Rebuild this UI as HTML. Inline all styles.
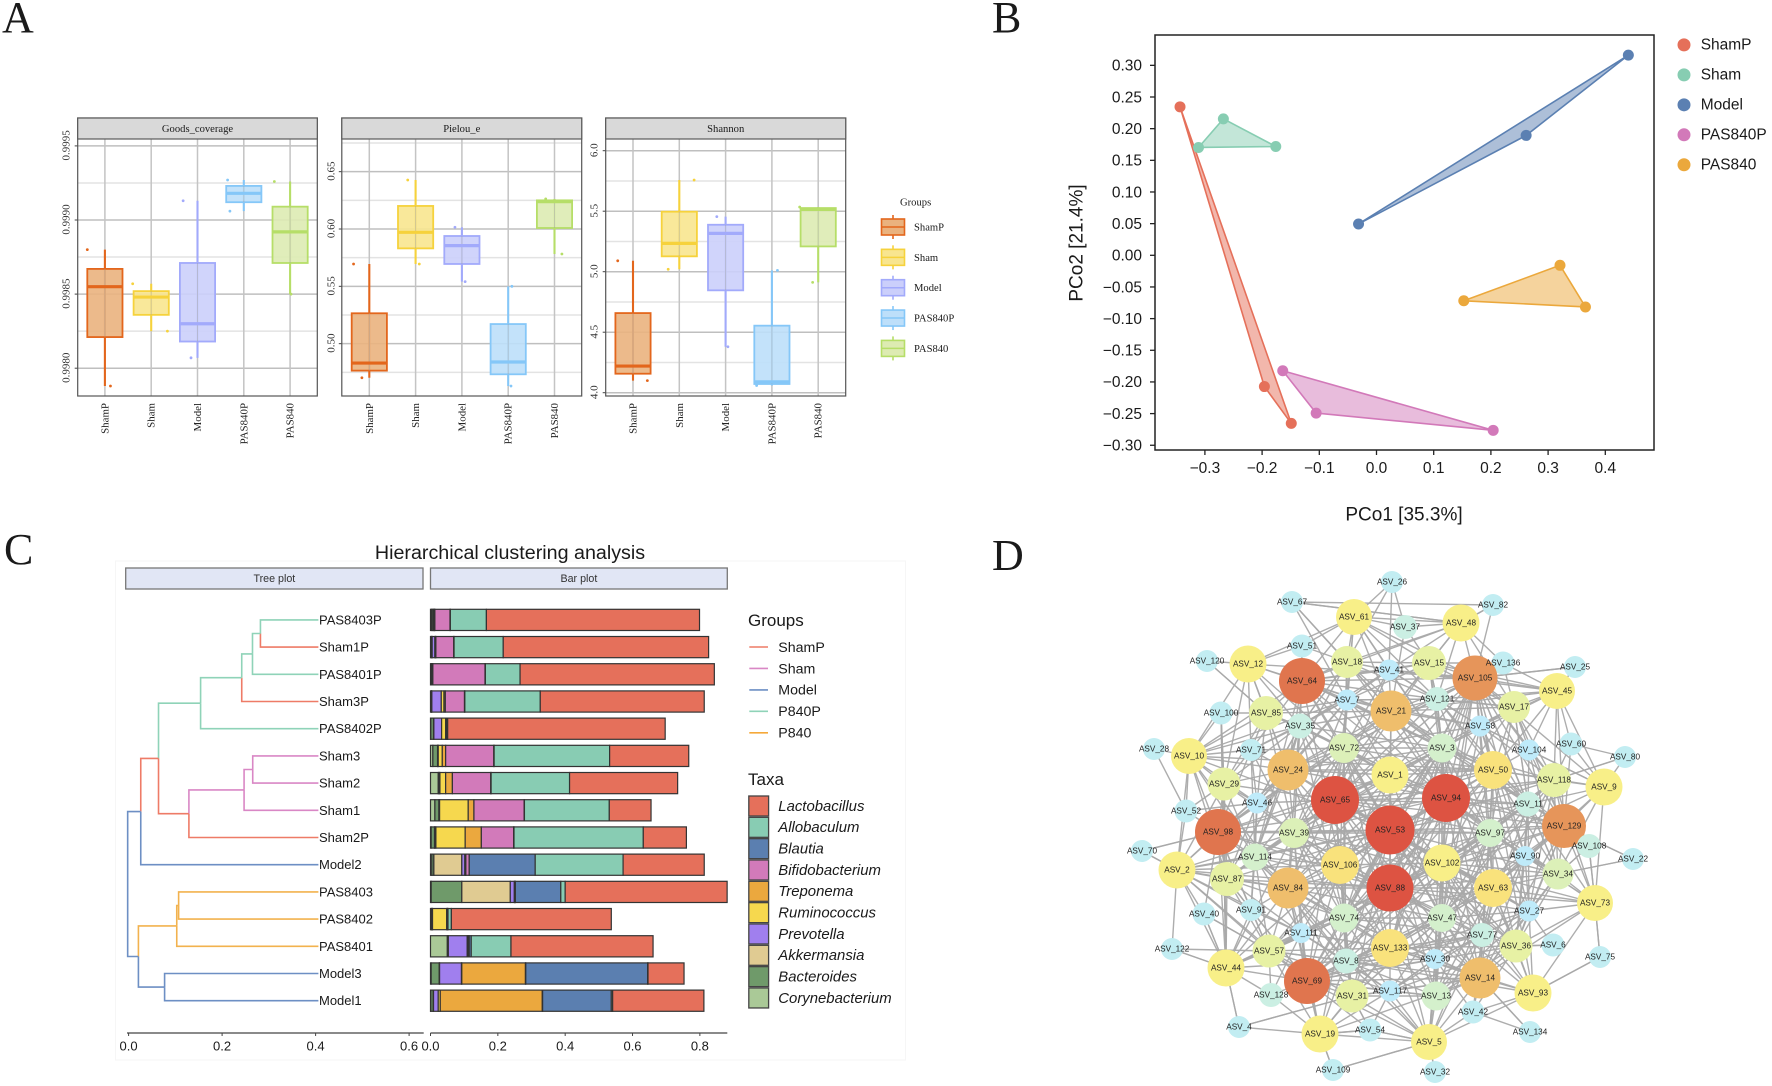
<!DOCTYPE html>
<html lang="en">
<head>
<meta charset="utf-8">
<title>Multi-panel microbiome figure</title>
<style>
html,body{margin:0;padding:0;background:#fff;}
svg{display:block;}
text{font-family:"Liberation Sans",sans-serif;fill:#1a1a1a;}
.serif{font-family:"Liberation Serif",serif;}
</style>
</head>
<body>
<svg id="figure" xmlns="http://www.w3.org/2000/svg" width="1772" height="1086" viewBox="0 0 1772 1086">
<rect width="1772" height="1086" fill="#fff"/>
<text class="serif" x="2" y="32" font-size="44">A</text>
<text class="serif" x="992" y="32" font-size="44">B</text>
<text class="serif" x="4" y="564" font-size="44">C</text>
<text class="serif" x="992" y="570" font-size="44">D</text>
</svg>
<script>
/* ---------- Panel A data ---------- */
const alphaCategories = ['ShamP','Sham','Model','PAS840P','PAS840'];
const goodsTicks = [0.998,0.9985,0.999,0.9995];
const goodsMinor = [0.99825,0.99875,0.99925];
const goodsHi  = [0.99880,0.99857,0.99913,0.99927,0.99926];
const goodsQ3  = [0.99867,0.99852,0.99871,0.99923,0.99909];
const goodsMed = [0.99855,0.99848,0.99830,0.99918,0.99892];
const goodsQ1  = [0.99821,0.99836,0.99818,0.99912,0.99871];
const goodsLo  = [0.99788,0.99825,0.99807,0.99906,0.99850];
const goodsJitterHi = [-0.38,-0.40,-0.31,-0.35,-0.34];
const goodsJitterLo = [0.12,0.35,-0.14,-0.30,0.02];
const pielouTicks = [0.5,0.55,0.6,0.65];
const pielouMinor = [0.475,0.525,0.575,0.625,0.675];
const pielouHi  = [0.5695,0.6427,0.6015,0.5500,0.6262];
const pielouQ3  = [0.5265,0.6201,0.5939,0.5171,0.6250];
const pielouMed = [0.4831,0.5971,0.5855,0.4840,0.6238];
const pielouQ1  = [0.4765,0.5831,0.5695,0.4733,0.6009];
const pielouLo  = [0.4703,0.5695,0.5541,0.4631,0.5782];
const pielouJitterHi = [-0.34,-0.17,-0.15,0.08,-0.19];
const pielouJitterLo = [-0.16,0.08,0.07,0.06,0.16];
const shannonTicks = [4,4.5,5,5.5,6];
const shannonMinor = [4.25,4.75,5.25,5.75];
const shannonHi  = [5.09,5.758,5.455,5.011,5.534];
const shannonQ3  = [4.658,5.496,5.388,4.554,5.526];
const shannonMed = [4.22,5.234,5.317,4.09,5.515];
const shannonQ1  = [4.157,5.127,4.846,4.072,5.209];
const shannonLo  = [4.10,5.02,4.38,4.06,4.912];
const shannonJitterHi = [-0.33,0.32,-0.19,0.12,-0.40];
const shannonJitterLo = [0.31,-0.24,0.05,-0.33,-0.12];

/* ---------- Panel B data ---------- */
const pcoaGroups = ['ShamP','Sham','Model','PAS840P','PAS840'];
const pcoaXTicks = [-0.3,-0.2,-0.1,0,0.1,0.2,0.3,0.4];
const pcoaYTicks = [0.30,0.25,0.20,0.15,0.10,0.05,0,-0.05,-0.10,-0.15,-0.20,-0.25,-0.30];
const pcoa1 = [[-0.3435,-0.196,-0.149],[-0.2677,-0.3112,-0.1761],[0.4403,0.2616,-0.0314],[-0.1639,-0.1055,0.204],[0.3208,0.3653,0.1526]];
const pcoa2 = [[0.2345,-0.2073,-0.2655],[0.2155,0.1703,0.1719],[0.3161,0.1893,0.0495],[-0.1823,-0.2492,-0.2764],[-0.0158,-0.0816,-0.0718]];

/* ---------- Panel C data ---------- */
const sampleNames = ['PAS8403P','Sham1P','PAS8401P','Sham3P','PAS8402P','Sham3','Sham2','Sham1','Sham2P','Model2','PAS8403','PAS8402','PAS8401','Model3','Model1'];
const treeLeafGroup = ['P840P','ShamP','P840P','ShamP','P840P','Sham','Sham','Sham','ShamP','Model','P840','P840','P840','Model','Model'];
const treeMergeLeft  = [0,15,16,17,5,19,20,18,22,10,24,13,25,23];
const treeMergeRight = [1,2,3,4,6,7,8,21,9,11,12,14,26,27];
const treeMergeHeight = [0.282,0.265,0.242,0.154,0.2655,0.247,0.129,0.064,0.026,0.107,0.103,0.077,0.021,-0.002];
const treeMergeGroup = ['P840P','P840P','P840P','P840P','Sham','Sham','ShamP','ShamP','Model','P840','P840','Model','Model','Model'];
const treeTicks = [0,0.2,0.4,0.6];
const barTicks = [0,0.2,0.4,0.6,0.8];
const legendGroups = ['ShamP','Sham','Model','P840P','P840'];
const taxaLegend = ['Lactobacillus','Allobaculum','Blautia','Bifidobacterium','Treponema','Ruminococcus','Prevotella','Akkermansia','Bacteroides','Corynebacterium'];
const corynebacterium = [.003,.002,.002,.002,.001,.007,.023,.013,.002,.004,.002,.002,.05,.002,.001];
const bacteroides = [.004,.002,.001,.001,.008,.014,.002,.012,.01,.006,.091,.002,.002,.024,.007];
const akkermansia = [.001,.001,.001,.001,.001,.001,.001,.001,.001,.083,.144,.001,.001,.001,.001];
const prevotella = [.003,.008,.001,.028,.023,.001,.002,.001,.003,.009,.012,.001,.056,.065,.014];
const ruminococcus = [.001,.002,.001,.008,.012,.012,.017,.085,.087,.002,.001,.042,.003,.001,.006];
const treponema = [.001,.001,.001,.004,.003,.01,.02,.017,.048,.001,.001,.002,.001,.189,.303];
const bifidobacterium = [.045,.053,.155,.057,.001,.143,.114,.149,.096,.01,.001,.001,.002,.001,.001];
const blautia = [.001,.001,.001,.001,.001,.001,.001,.001,.001,.196,.135,.001,.006,.362,.204];
const allobaculum = [.107,.146,.103,.224,.001,.343,.233,.252,.384,.261,.013,.01,.118,.001,.004];
const lactobacillus = [.633,.61,.577,.487,.646,.235,.321,.124,.128,.241,.481,.475,.422,.107,.271];

/* ---------- Panel D data (layout units, weight) ---------- */
const nodeIds = [26,67,61,37,51,120,12,64,18,41,15,7,21,121,100,85,35,28,10,71,72,3,24,29,1,65,94,46,52,98,53,39,70,114,2,87,106,102,84,88,40,91,74,47,111,122,57,133,8,30,44,69,128,31,117,13,4,19,54,5,109,32,82,48,136,105,25,45,17,58,60,104,80,50,118,9,11,129,97,108,22,90,34,63,73,27,77,36,6,75,14,93,42,134];
const nodeLayoutX = [2,-98,-36,15,-88,-183,-142,-88,-43,-1,39,-43,1,47,-169,-124,-90,-236,-201,-139,-46,52,-102,-166,0,-55,56,-133,-204,-172,0,-96,-248,-135,-213,-163,-50,52,-102,0,-186,-139,-46,52,-89,-218,-121,0,-44,45,-164,-83,-119,-38,0,46,-151,-70,-20,39,-57,45,103,71,113,85,185,167,124,90,181,139,235,103,164,214,138,174,100,199,243,135,168,103,205,139,92,126,163,210,90,143,83,140];
const nodeLayoutY = [-248,-228,-213,-203,-184,-169,-166,-149,-168,-160,-167,-130,-119,-131,-117,-117,-104,-81,-74,-80,-82,-82,-60,-46,-55,-30,-32,-27,-19,2,0,3,21,27,40,49,35,33,58,58,84,80,88,88,103,119,121,118,131,129,138,151,165,166,161,166,197,204,200,212,240,242,-225,-207,-167,-152,-163,-139,-123,-104,-86,-80,-73,-60,-50,-43,-26,-4,3,16,29,26,44,58,73,81,105,116,115,127,148,163,182,202];
const nodeWeight = [11,11,18,12,11.5,11,18.5,23,16,10.5,17,10.5,20.5,12,11.5,17,12.5,11,18,11,15,14.5,20.5,16.5,18.5,24,24,10.5,11.5,23,24.5,15,11,13.5,18.5,17,19,18.5,20.5,23.5,11.5,11,14.5,14,10,11,16.5,19,12.5,10,18.5,23,12,16.5,10.5,14.5,11,18.5,11.5,18,11,11,11,18.5,11.5,22.5,11,18,16,10.5,11.5,10.5,11,19,17,18.5,12.5,22,14,12,11,10,15.5,19,18,10.5,12,16.5,11.5,11,20.5,18.5,11.5,11];
const edgeHubs = [65,94,53,88,105,69,98,64,129,14,84,24,21,50,102,63,133,106,1,48,61,12,10,45,9,73,93,5,19,44,2,87,85,57,29,31,36,34,17,15,18,118,26,67,82,120,28,100,25,80,22,75,6,134,32,109,4,54,122,70,40,108,3,72,39,74,47,97,114,35,8,77,11,121,7,58,46,90,27,30,111,117];
const edgeNeighbours = [
[1,3,7,21,24,35,39,41,46,50,53,63,72,74,84,87,88,94,97,98,102,105,106,114,118,121,129,133,11,14,31,36,69,17,15,29],
[1,3,7,21,24,35,39,47,50,53,58,63,72,74,84,88,90,97,98,102,105,106,118,121,129,133,11,14,34,36,69,17,15,18,64,8],
[1,3,21,24,35,39,47,50,63,72,74,84,87,88,97,98,102,105,106,114,118,129,133,11,14,30,31,36,57,69,13,8,77,64,2,34,27,10],
[1,3,21,24,39,47,50,63,72,74,84,87,97,98,102,105,106,111,114,129,133,11,14,13,30,31,36,34,27,57,69,77,8,5,2,44,73],
[12,61,48,15,17,45,136,21,41,58,121,3,1,72,50,104,118,9,129,11,24,102,63,90,34,74,47,133,93,82,25],
[44,57,128,19,31,54,8,74,111,133,84,91,87,2,39,106,102,47,63,36,14,5,13,117,30,77,97,27],
[2,10,29,46,52,70,87,114,24,39,72,84,106,1,21,71,40,91,57,44],
[12,51,61,18,85,35,7,21,24,41,15,105,72,39,1,3,84,114,106,50,10,71,48,121],
[9,73,108,118,11,104,34,90,97,50,63,102,27,36,14,1,3,21,17,45,60,133,22],
[5,93,42,134,36,77,13,117,30,47,63,102,133,8,31,19,73,34,27,106,74,90,97,50],
[2,87,44,57,91,111,74,106,39,114,10,72,31,133,8,1,97,47,19,5],
[10,12,85,35,29,71,46,72,1,21,7,3,39,18,114,106,74,50,2,87],
[12,61,18,15,7,41,72,3,1,50,121,37,35,85,17,45,58,39,97,48],
[3,58,72,104,118,9,11,17,45,121,97,102,63,47,1,106,10,34,27],
[3,47,97,63,90,11,34,73,27,36,77,13,133,74,106,9,118,5,93],
[97,90,34,73,27,77,36,93,47,13,30,74,133,9,118,5],
[74,47,8,111,57,30,13,117,31,19,5,106,39,77,93,36],
[39,74,72,1,3,114,47,57,111,31,8,2,44],
[3,72,7,35,39,97,47,74],
[61,15,41,37,21,17,121,18,67,136,82],
[37,18,51,41,15,7,121,26,12,3,72],
[10,85,29,35,71,51,120,72],
[28,71,85,29,52,2,100,87,46,114,7,35],
[17,136,25,58,60,104,9,118,15,41,121,3],
[60,104,118,11,80,34,73,58],
[34,27,36,90,97,11,108,93,75,118],
[36,42,27,75,77,5,8,47],
[13,117,30,32,109,54,42,19,31,8,47,77],
[31,57,128,109,54,8,74,117,111,4],
[4,122,40,91,57,128,87,2,100,29,39,74,111,8],
[70,87,29,40,91,111,39,57,52,114,122],
[29,46,91,57,39,114,111,74],
[35,71,29,100,120,72,7,46],
[8,111,128,91,40,117,31,74],
[46,71,52,100,39,35],
[8,117,54,13,47,4],
[6,27,77,90,11,34,13,42,117],
[90,27,11,22,108,118,104,97],
[136,58,104,121,15,3,11,118],
[41,37,7,121,18,3,136],
[7,41,51,35,72,3,67],
[104,60,11,80,97,90],
[37,41,18],
[82,48,7,21],
[48],
[85],
[52],
[44,29],
[105,45],
[60,118],
[129,34],
[73,93],
[36,27],
[42,14],
[5],
[19,5],
[44,31],
[5,19,31],
[44,57],
[2,98],
[44,57],
[73,34,129],
[72,7,35,39,97,47,74,133,121,58,11,77,118,63,30,41,106,84],
[7,35,39,97,47,74,114,46,71,121,58,133,84,8,41,18,102],
[35,46,97,74,114,47,71,85,111,8,133,102,50,63,7],
[97,47,114,111,8,57,117,31,77,30,102,50,35],
[97,77,30,13,117,8,90,27,11,58,118,31],
[58,90,11,27,77,118,30,13,36,17,121,8],
[46,71,35,111,91,87,29,57,8,74],
[71,7,46,51,18,85,72,114,41],
[111,117,30,13,77,47,31,57],
[30,13,27,90,117,11,42],
[90,27,58,104,121,118,17],
[58,41,7,3,18,15,17],
[41,46,71,18,72,58,121],
[41,104,118,17,90],
[71,91,114,35,52],
[27,34,11,77],
[77,36,34,13,118],
[117,13,42,77],
[117,91,8,128],
[13,54,30]
];

/* ---------- helpers ---------- */
const SVGNS = 'http://www.w3.org/2000/svg';
const figure = document.getElementById('figure');
function mk(tag, attrs, parent){
  const n = document.createElementNS(SVGNS, tag);
  for (const k in attrs) n.setAttribute(k, attrs[k]);
  (parent || figure).appendChild(n);
  return n;
}
function label(str, attrs, parent){
  const n = mk('text', attrs, parent);
  n.textContent = str;
  return n;
}

/* ---------- Panel A ---------- */
const boxStroke = ['#E3661C','#F6D23C','#A2AAFB','#85C7F8','#B6DE68'];
const boxFill = ['#EAB27E','#F8E58F','#CBCFFB','#BDDFFA','#DDEBB2'];
function drawBoxPanel(key, title, px0, px1, cat0, step, yOf, ticks, minor, tickFmt, tickLabelX, hi, q3, med, q1, lo, jHi, jLo){
  const top = 118, stripBottom = 139, bottom = 396;
  const g = mk('g', {});
  
  
  minor.forEach(v => {
    const l = mk('line', {x1:px0,x2:px1,y1:yOf(v),y2:yOf(v),stroke:'#e3e3e3','stroke-width':1.5}, g);
    
    
  });
  ticks.forEach(v => {
    const l = mk('line', {x1:px0,x2:px1,y1:yOf(v),y2:yOf(v),stroke:'#bfbfbf','stroke-width':1.5}, g);
    
    
    const t = mk('line', {x1:px0-3,x2:px0,y1:yOf(v),y2:yOf(v),stroke:'#444','stroke-width':1}, g);
    
    
    const tl = label(tickFmt(v), {class:'serif','font-size':11,'text-anchor':'middle','dominant-baseline':'central',transform:'translate(' + (tickLabelX+0.5) + ',' + (yOf(v)-0.5) + ') rotate(-90)',style:'fill:#333'}, g);
    
    
  });
  alphaCategories.forEach((c,i) => {
    const x = cat0 + i*step;
    const l = mk('line', {x1:x,x2:x,y1:stripBottom,y2:bottom,stroke:'#c4c4c4','stroke-width':1.5}, g);
    
    
    const whisker = mk('line', {x1:x,x2:x,y1:yOf(hi[i]),y2:yOf(lo[i]),stroke:boxStroke[i],'stroke-width':2.1}, g);
    
    
    const box = mk('rect', {x:x-17.6,width:35.2,y:yOf(q3[i]),height:yOf(q1[i])-yOf(q3[i]),fill:boxFill[i],'fill-opacity':0.9,stroke:boxStroke[i],'stroke-width':1.8}, g);
    
    
    const gridOver = mk('line', {x1:x,x2:x,y1:yOf(q3[i]),y2:yOf(q1[i]),stroke:'#a0a0a0','stroke-width':1,'stroke-opacity':0.45}, g);
    
    
    const m = mk('line', {x1:x-17.6,x2:x+17.6,y1:yOf(med[i]),y2:yOf(med[i]),stroke:boxStroke[i],'stroke-width':3.2}, g);
    
    
    const p1 = mk('circle', {cx:x+jHi[i]*step,cy:yOf(hi[i]),r:1.4,fill:boxStroke[i]}, g);
    
    
    const p2 = mk('circle', {cx:x+jLo[i]*step,cy:yOf(lo[i]),r:1.4,fill:boxStroke[i]}, g);
    
    
    const cl = label(c, {class:'serif','font-size':10.9,'text-anchor':'end','dominant-baseline':'central',transform:'translate(' + (x+0.5) + ',403) rotate(-90)',style:'fill:#222'}, g);
    
    
  });
  const frame = mk('rect', {x:px0,y:top,width:px1-px0,height:bottom-top,fill:'none',stroke:'#555','stroke-width':1.2}, g);
  
  
  const strip = mk('rect', {x:px0,y:top,width:px1-px0,height:stripBottom-top,fill:'#d9d9d9',stroke:'#5a5a5a','stroke-width':1.2}, g);
  
  
  const st = label(title, {class:'serif','font-size':10.6,x:(px0+px1)/2,y:(top+stripBottom)/2+1,'text-anchor':'middle','dominant-baseline':'central'}, g);
  
  
}
const yGoods = v => 220 - (v-0.999)*148200;
const yPielou = v => 229 - (v-0.6)*1146.7;
const yShannon = v => 271.7 - (v-5)*121;
drawBoxPanel('goods-coverage','Goods_coverage',77.7,317.3,104.9,46.3,yGoods,goodsTicks,goodsMinor,v=>v.toFixed(4),66,goodsHi,goodsQ3,goodsMed,goodsQ1,goodsLo,goodsJitterHi,goodsJitterLo);
drawBoxPanel('pielou','Pielou_e',341.8,581.7,369.3,46.3,yPielou,pielouTicks,pielouMinor,v=>v.toFixed(2),331,pielouHi,pielouQ3,pielouMed,pielouQ1,pielouLo,pielouJitterHi,pielouJitterLo);
drawBoxPanel('shannon','Shannon',605.7,845.7,633,46.3,yShannon,shannonTicks,shannonMinor,v=>v.toFixed(1),594,shannonHi,shannonQ3,shannonMed,shannonQ1,shannonLo,shannonJitterHi,shannonJitterLo);

const alphaLegendTitle = label('Groups', {class:'serif','font-size':10.6,x:900,y:203,'dominant-baseline':'central'});


alphaCategories.forEach((c,i) => {
  const y = 227 + i*30.35;
  const wh = mk('line', {x1:893,x2:893,y1:y-12,y2:y+12,stroke:boxStroke[i],'stroke-width':1.6});
  
  
  const k = mk('rect', {x:881.5,y:y-8,width:23,height:16,fill:boxFill[i],stroke:boxStroke[i],'stroke-width':1.6});
  
  
  const km = mk('line', {x1:881.5,x2:904.5,y1:y,y2:y,stroke:boxStroke[i],'stroke-width':1.5});
  
  
  const t = label(c, {class:'serif','font-size':10.6,x:914,y:y+1,'dominant-baseline':'central'});
  
  
});

/* ---------- Panel B ---------- */
const pcoaColors = ['#E5705A','#87CDB2','#5B80B2','#D279B9','#EBA83C'];
const xPco = v => 1376.5 + 572*v;
const yPco = v => 255.3 - 633.2*v;
pcoaXTicks.forEach(v => {
  const t = mk('line', {x1:xPco(v),x2:xPco(v),y1:450,y2:455,stroke:'#222','stroke-width':1.3});
  
  
  const l = label(v.toFixed(1).replace('-','\u2212'), {x:xPco(v),y:468.5,'font-size':15.5,'text-anchor':'middle','dominant-baseline':'central'});
  
  
});
pcoaYTicks.forEach(v => {
  const t = mk('line', {x1:1150,x2:1155,y1:yPco(v),y2:yPco(v),stroke:'#222','stroke-width':1.3});
  
  
  const l = label(v.toFixed(2).replace('-','\u2212'), {x:1142,y:yPco(v)+0.8,'font-size':15.5,'text-anchor':'end','dominant-baseline':'central'});
  
  
});
pcoaGroups.forEach((name,i) => {
  const pts = pcoa1[i].map((v,j) => xPco(v) + ',' + yPco(pcoa2[i][j])).join(' ');
  const hull = mk('polygon', {points:pts,fill:pcoaColors[i],'fill-opacity':0.5,stroke:pcoaColors[i],'stroke-width':1.6,'stroke-linejoin':'round'});
  
  
});
pcoaGroups.forEach((name,i) => {
  pcoa1[i].forEach((v,j) => {
    const p = mk('circle', {cx:xPco(v),cy:yPco(pcoa2[i][j]),r:5.5,fill:pcoaColors[i]});
    
    
  });
  const k = mk('circle', {cx:1684,cy:44.9+i*29.97,r:6.5,fill:pcoaColors[i]});
  
  
  const t = label(name, {x:1700.7,y:45.2+i*29.97,'font-size':15.5,'dominant-baseline':'central'});
  
  
});
const pcoaFrame = mk('rect', {x:1155,y:35,width:499,height:415,fill:'none',stroke:'#222','stroke-width':1.5});


const pcoaXTitle = label('PCo1 [35.3%]', {x:1404,y:515,'font-size':19,'text-anchor':'middle','dominant-baseline':'central'});


const pcoaYTitle = label('PCo2 [21.4%]', {'font-size':19,'text-anchor':'middle','dominant-baseline':'central',transform:'translate(1077,243) rotate(-90)'});



/* ---------- Panel C ---------- */
const treeColor = {ShamP:'#EE7B67',Sham:'#D987C5',Model:'#6D8FC4',P840P:'#8FD3B8',P840:'#F2B24E'};
const legendLineColor = ['#EE7B67','#D987C5','#6D8FC4','#8FD3B8','#F5A93A'];
const taxaColors = ['#E5705B','#88CCB3','#5B7FB0','#D27ABA','#EBA83E','#F6D84E','#A07FEE','#E0CB92','#6F9A6A','#AAC997'];
const taxaStack = [corynebacterium,bacteroides,akkermansia,prevotella,ruminococcus,treponema,bifidobacterium,blautia,allobaculum,lactobacillus];
const taxaStackColors = ['#AAC997','#6F9A6A','#E0CB92','#A07FEE','#F6D84E','#EBA83E','#D27ABA','#5B7FB0','#88CCB3','#E5705B'];
const taxaStackNames = ['corynebacterium','bacteroides','akkermansia','prevotella','ruminococcus','treponema','bifidobacterium','blautia','allobaculum','lactobacillus'];
const yRow = i => 619.9 + 27.2*i;
const xTree = v => 128.6 + 467.5*v;
const xBar = v => 430.5 + 336.7*v;

const cFrame = mk('rect', {x:115.5,y:561,width:790,height:499,fill:'none',stroke:'#f6f6f6','stroke-width':1});


const cTitle = label('Hierarchical clustering analysis', {x:510,y:553,'font-size':19.7,'text-anchor':'middle','dominant-baseline':'central'});


[['Tree plot',125.7,423],['Bar plot',430.5,727.3]].forEach((s,i) => {
  const r = mk('rect', {x:s[1],y:568,width:s[2]-s[1],height:21,fill:'#e1e6f5',stroke:'#777','stroke-width':1.3});
  
  
  const t = label(s[0], {x:(s[1]+s[2])/2,y:578.8,'font-size':10.7,'text-anchor':'middle','dominant-baseline':'central',style:'fill:#333'});
  
  
});

/* tree */
const nodeRowPos = sampleNames.map((_,i) => yRow(i));
const nodeHeight = sampleNames.map(() => 0.406);
const nodeGroup = treeLeafGroup.slice();
treeMergeHeight.forEach((h,m) => {
  const a = treeMergeLeft[m], b = treeMergeRight[m];
  [a,b].forEach(child => {
    const path = mk('path', {d:'M' + xTree(nodeHeight[child]) + ' ' + nodeRowPos[child] + 'H' + xTree(h) + 'V' + (nodeRowPos[a]+nodeRowPos[b])/2,fill:'none',stroke:treeColor[nodeGroup[child]],'stroke-width':1.6});
    
    
  });
  nodeRowPos.push((nodeRowPos[a]+nodeRowPos[b])/2);
  nodeHeight.push(h);
  nodeGroup.push(treeMergeGroup[m]);
});
sampleNames.forEach((s,i) => {
  const t = label(s, {x:319,y:yRow(i),'font-size':13,'dominant-baseline':'central'});
  
  
});
/* stacked bars */
sampleNames.forEach((s,i) => {
  let acc = 0;
  taxaStack.forEach((series,k) => {
    const v = series[i];
    const b = mk('rect', {x:xBar(acc),y:yRow(i)-10.6,width:xBar(acc+v)-xBar(acc),height:21.2,fill:taxaStackColors[k],stroke:'#333','stroke-width':1.2});
    
    
    acc += v;
  });
});
/* axes */
const treeAxis = mk('line', {x1:127,x2:423.7,y1:1033,y2:1033,stroke:'#444','stroke-width':1.3});


const barAxis = mk('line', {x1:430.5,x2:727.3,y1:1033,y2:1033,stroke:'#444','stroke-width':1.3});


treeTicks.forEach(v => {
  const t = mk('line', {x1:xTree(v),x2:xTree(v),y1:1033,y2:1036,stroke:'#444','stroke-width':1});
  
  
  const l = label(v.toFixed(1), {x:xTree(v),y:1046,'font-size':13,'text-anchor':'middle','dominant-baseline':'central'});
  
  
});
barTicks.forEach(v => {
  const t = mk('line', {x1:xBar(v),x2:xBar(v),y1:1033,y2:1036,stroke:'#444','stroke-width':1});
  
  
  const l = label(v.toFixed(1), {x:xBar(v),y:1046,'font-size':13,'text-anchor':'middle','dominant-baseline':'central'});
  
  
});
/* legends */
const gTitle = label('Groups', {x:748,y:620.5,'font-size':17,'dominant-baseline':'central'});


legendGroups.forEach((g,i) => {
  const y = 647 + i*21.45;
  const l = mk('line', {x1:749.3,x2:768,y1:y,y2:y,stroke:legendLineColor[i],'stroke-width':1.6});
  
  
  const t = label(g, {x:778.3,y:y+0.8,'font-size':14.2,'dominant-baseline':'central'});
  
  
});
const tTitle = label('Taxa', {x:748,y:779.5,'font-size':17,'dominant-baseline':'central'});


taxaLegend.forEach((g,i) => {
  const y = 806 + i*21.33;
  const r = mk('rect', {x:748.8,y:y-10,width:19.8,height:20,fill:taxaColors[i],stroke:'#444','stroke-width':1.3});
  
  
  const t = label(g, {x:778.3,y:y+0.8,'font-size':14.9,'font-style':'italic','dominant-baseline':'central'});
  
  
});

/* ---------- Panel D ---------- */
const xNet = v => 1390 + v;
const yNet = v => 830 + v;
const rNet = w => w;
function colorNet(w){
  if (w <= 10.5) return '#bfebfa';
  if (w <= 11.5) return '#c2edf2';
  if (w <= 13) return '#cbefe3';
  if (w <= 14.5) return '#d4f0cc';
  if (w <= 15.5) return '#dcf0b8';
  if (w <= 17) return '#e7f1a4';
  if (w <= 18.6) return '#f8ef88';
  if (w <= 19.5) return '#f9e27c';
  if (w <= 21) return '#efbe6c';
  if (w <= 22.6) return '#e6955a';
  if (w <= 23.2) return '#e0754e';
  return '#dd5342';
}
const nodeIndex = {};
nodeIds.forEach((id,i) => { nodeIndex[id] = i; });
const edgeLayer = mk('g', {stroke:'#a9a9a9','stroke-width':1.4,'stroke-opacity':0.95});


edgeHubs.forEach((hub,h) => {
  edgeNeighbours[h].forEach(other => {
    const a = nodeIndex[hub], b = nodeIndex[other];
    const e = mk('line', {x1:xNet(nodeLayoutX[a]),y1:yNet(nodeLayoutY[a]),x2:xNet(nodeLayoutX[b]),y2:yNet(nodeLayoutY[b])}, edgeLayer);
    
    
  });
});
nodeIds.forEach((id,i) => {
  const c = mk('circle', {cx:xNet(nodeLayoutX[i]),cy:yNet(nodeLayoutY[i]),r:rNet(nodeWeight[i]),fill:colorNet(nodeWeight[i])});
  
  
});
nodeIds.forEach((id,i) => {
  const t = label('ASV_' + id, {x:xNet(nodeLayoutX[i]),y:yNet(nodeLayoutY[i]),'font-size':8.2,'text-anchor':'middle','dominant-baseline':'central',style:'fill:#222'});
  
  
});
</script>
</body>
</html>
